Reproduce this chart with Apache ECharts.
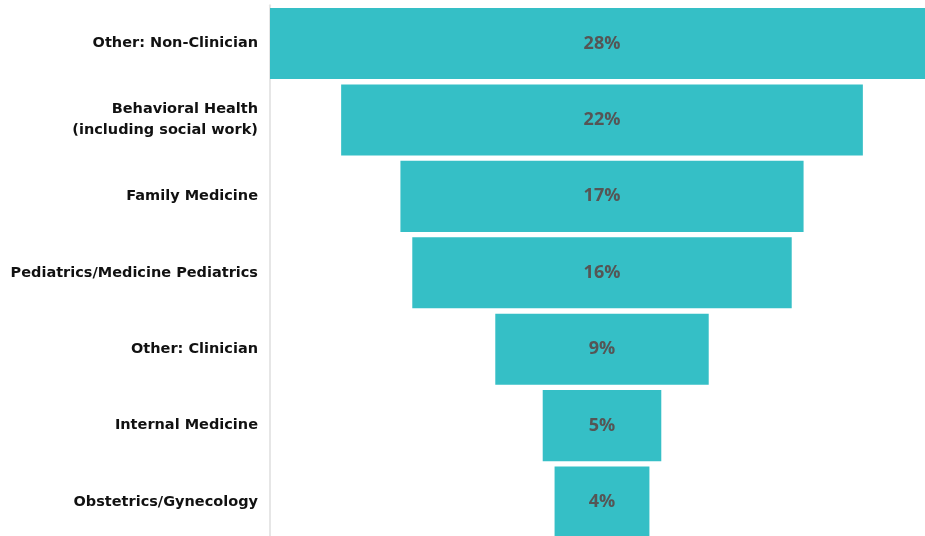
<!DOCTYPE html>
<html>
<head>
<meta charset="utf-8">
<script src="https://cdn.jsdelivr.net/npm/echarts@6/dist/echarts.min.js"></script>
<style>
  html, body { margin: 0; padding: 0; background: #ffffff; overflow: hidden; }
  /* the widest and lowest bars run past the window edge */
  #chart { width: 940px; height: 545px; }
</style>
</head>
<body>
<div id="chart"></div>
<script>
// Share of respondents by role, drawn as a centred funnel of horizontal bars
const categories = [
  'Other: Non-Clinician',
  'Behavioral Health\n(including social work)',
  'Family Medicine',
  'Pediatrics/Medicine Pediatrics',
  'Other: Clinician',
  'Internal Medicine',
  'Obstetrics/Gynecology'
];
const shares = [28, 22, 17, 16, 9, 5, 4];

const maxShare = Math.max(...shares);
// transparent spacer that centres each bar on the widest one
const spacer = shares.map(v => (maxShare - v) / 2);

const chart = echarts.init(document.getElementById('chart'));
chart.setOption({
  animation: false,
  backgroundColor: '#ffffff',
  grid: { left: 270, top: 5.3, width: 664, height: 535 },
  xAxis: {
    type: 'value',
    min: 0,
    max: maxShare,
    show: false
  },
  yAxis: {
    type: 'category',
    inverse: true,
    data: categories,
    axisLine: { show: true, lineStyle: { color: '#e6e6e6', width: 2 } },
    axisTick: { show: false },
    axisLabel: {
      margin: 12,
      color: '#111111',
      fontFamily: 'DejaVu Sans',
      fontWeight: 'bold',
      fontSize: 14.5,
      lineHeight: 21,
      align: 'right',
      padding: [3, 0, 0, 0]
    }
  },
  series: [
    {
      type: 'bar',
      stack: 'funnel',
      data: spacer,
      itemStyle: { color: 'transparent' },
      barCategoryGap: '7%',
      silent: true
    },
    {
      type: 'bar',
      stack: 'funnel',
      data: shares,
      barCategoryGap: '7%',
      itemStyle: { color: '#35bfc6' },
      label: {
        show: true,
        position: 'inside',
        formatter: p => p.value + '%',
        color: '#555555',
        fontFamily: 'Open Sans',
        fontWeight: 'bold',
        fontSize: 18,
        padding: [3, 0, 0, 0]
      }
    }
  ]
});
</script>
</body>
</html>
